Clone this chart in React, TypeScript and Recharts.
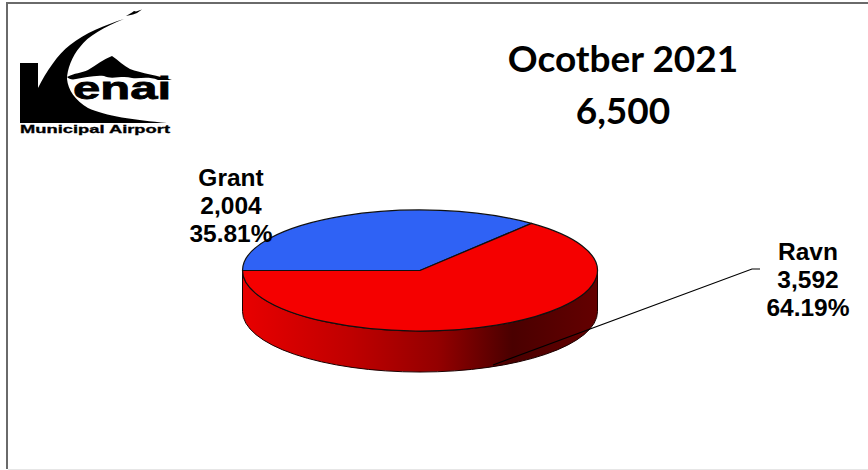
import React from 'react';
import { PieChart, Pie, Cell } from 'recharts';

const carriers = ['Grant', 'Ravn'];
const passengers = [2004, 3592];
const shares = ['35.81%', '64.19%'];
const sliceColors = ['#2f62f5', '#f50000'];
const titleLines = ['Ocotber 2021', '6,500'];

const data = carriers.map((name, i) => ({ name, value: passengers[i] }));

const SQUASH = 0.341;
const DEPTH = 41;
const RAD = Math.PI / 180;

// recharts only does round pies, so flatten each sector here and add the wall
const TiltedSector = (props: any) => {
  const { cx, cy, outerRadius: rx, startAngle, endAngle, fill } = props;
  const ry = rx * SQUASH;
  const px = (a: number) => cx + rx * Math.cos(a * RAD);
  const py = (a: number) => cy - ry * Math.sin(a * RAD);
  const large = Math.abs(startAngle - endAngle) > 180 ? 1 : 0;
  const top = `M${cx},${cy} L${px(startAngle)},${py(startAngle)} A${rx},${ry} 0 ${large} 1 ${px(endAngle)},${py(endAngle)} Z`;
  // wall is only seen on the front half of the pie
  const a0 = Math.min(startAngle, 0);
  const a1 = Math.max(endAngle, -180);
  const hasWall = a0 > a1;
  const wall = `M${px(a0)},${py(a0)} A${rx},${ry} 0 0 1 ${px(a1)},${py(a1)} L${px(a1)},${py(a1) + DEPTH} A${rx},${ry} 0 0 0 ${px(a0)},${py(a0) + DEPTH} Z`;
  return (
    <g>
      {hasWall && <path d={wall} fill="url(#wallShade)" stroke="#1a0000" strokeWidth={1} />}
      <path d={top} fill={fill} stroke="#101010" strokeWidth={1.2} strokeLinejoin="round" />
    </g>
  );
};

// callouts sit where the original put them, labels draw above the slices
const calloutSpots = [
  { x: 231, y: 186 },
  { x: 808, y: 260 },
];

const renderCallout = (props: any) => {
  const { index, name, value } = props;
  const { x, y } = calloutSpots[index];
  return (
    <g key={name}>
      {index === 1 && <polyline points="493,365 752,269 760,269" fill="none" stroke="#000" strokeWidth={1.2} />}
      <text x={x} y={y} textAnchor="middle" fontFamily="Liberation Sans" fontWeight="bold" fontSize={24.5} fill="#000">
        <tspan x={x}>{name}</tspan>
        <tspan x={x} dy={28}>{value.toLocaleString('en-US')}</tspan>
        <tspan x={x} dy={28}>{shares[index]}</tspan>
      </text>
    </g>
  );
};

const Logo = () => (
  <g fill="#000">
    <path d="M20,63 H38 V88 C46,72 58,54 70,45 C85,33 105,25 124,19 C104,27 88,36 80,47 C72,56 67,70 67,79 C68,90 75,100 88,108 C105,116 135,120 167,123 H20 Z" />
    <path d="M67,77 C74,73 82,73 88,70 C96,65 104,59 112,56 C118,60 124,66 130,69 C140,73 160,76 172,80 L158,80 C148,76 140,79 132,78 C122,75 112,80 104,76 C94,75 84,78 76,79 C72,80 69,79 67,77 Z" />
    <path d="M126,16 L132,12.5 L134,11 L136,11.5 L142,9.5 L137,13 L133,14.5 Z" />
    <text x={73} y={99} fontFamily="Liberation Sans" fontWeight="bold" fontSize={32} stroke="#000" strokeWidth={0.8} textLength={98} lengthAdjust="spacingAndGlyphs">enai</text>
    <text x={20} y={133} fontFamily="Liberation Sans" fontWeight="bold" fontSize={11} stroke="#000" strokeWidth={0.3} textLength={150} lengthAdjust="spacingAndGlyphs">Municipal Airport</text>
  </g>
);

export default function App() {
  return (
    <div style={{ position: 'absolute', left: 0, top: 0, width: 868, height: 470, background: '#fff' }}>
      <PieChart width={868} height={470} margin={{ top: 0, right: 0, bottom: 0, left: 0 }}>
        <defs>
          <linearGradient id="wallShade" x1="0" y1="0" x2="1" y2="0">
            <stop offset="0" stopColor="#e80000" />
            <stop offset="0.3" stopColor="#c00000" />
            <stop offset="0.55" stopColor="#940000" />
            <stop offset="0.76" stopColor="#4a0000" />
            <stop offset="1" stopColor="#640000" />
          </linearGradient>
        </defs>
        <path d="M868,3 H7 V469" fill="none" stroke="#6a6a6a" strokeWidth={2} />
        <path d="M8,469.5 H868" fill="none" stroke="#e6e6e6" strokeWidth={1} />
        <Pie
          data={data}
          dataKey="value"
          nameKey="name"
          cx={420}
          cy={270.5}
          innerRadius={0}
          outerRadius={177.5}
          startAngle={180}
          endAngle={-180}
          stroke="none"
          shape={TiltedSector}
          label={renderCallout}
          labelLine={false}
          isAnimationActive={false}
          rootTabIndex={-1}
        >
          {data.map((d, i) => (
            <Cell key={d.name} fill={sliceColors[i]} />
          ))}
        </Pie>
        <Logo />
        <text textAnchor="middle" fontFamily="Lato" fontWeight="bold" fontSize={37} fill="#000">
          <tspan x={623} y={72}>{titleLines[0]}</tspan>
          <tspan x={623} y={124}>{titleLines[1]}</tspan>
        </text>
      </PieChart>
    </div>
  );
}
